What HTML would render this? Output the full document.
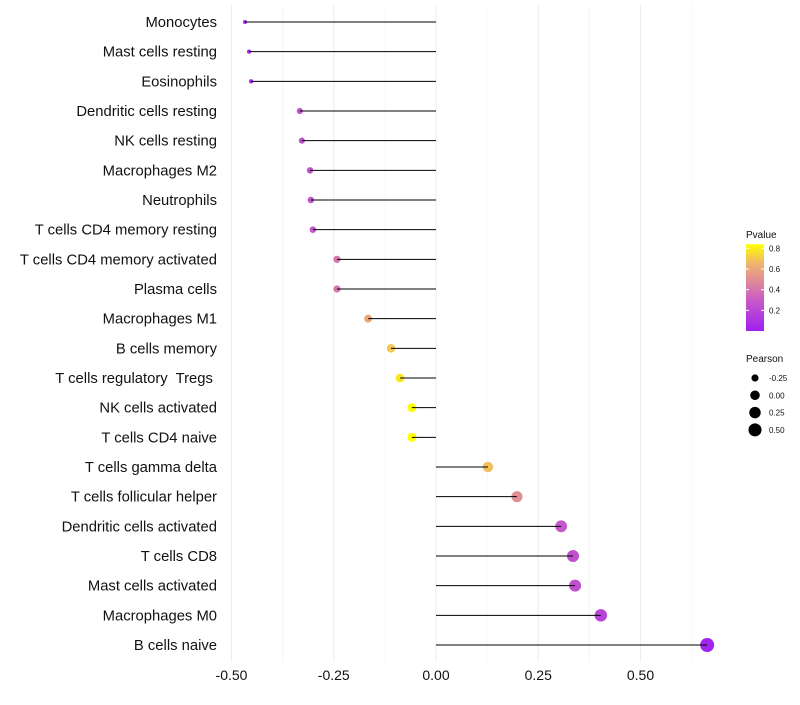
<!DOCTYPE html>
<html><head><meta charset="utf-8"><style>
body{margin:0;background:#fff;font-family:"Liberation Sans",sans-serif}
</style></head><body>
<svg id="c" width="800" height="700" xmlns="http://www.w3.org/2000/svg" font-family="Liberation Sans, sans-serif"></svg>
<script>
const categories=["Monocytes","Mast cells resting","Eosinophils","Dendritic cells resting","NK cells resting","Macrophages M2","Neutrophils","T cells CD4 memory resting","T cells CD4 memory activated","Plasma cells","Macrophages M1","B cells memory","T cells regulatory  Tregs ","NK cells activated","T cells CD4 naive","T cells gamma delta","T cells follicular helper","Dendritic cells activated","T cells CD8","Mast cells activated","Macrophages M0","B cells naive"];
const pearson=[-0.467,-0.457,-0.452,-0.333,-0.328,-0.308,-0.306,-0.301,-0.242,-0.242,-0.166,-0.110,-0.088,-0.059,-0.059,0.127,0.198,0.306,0.335,0.340,0.403,0.663];
const pvalue=[0.03,0.03,0.04,0.25,0.25,0.25,0.27,0.28,0.4,0.4,0.6,0.7,0.78,0.83,0.84,0.68,0.5,0.28,0.25,0.25,0.18,0.02];
const xTicks=[-0.5,-0.25,0,0.25,0.5];
const xTickLabels=["-0.50","-0.25","0.00","0.25","0.50"];
const pTicks=[0.2,0.4,0.6,0.8];
const sizeLegend=[-0.25,0,0.25,0.5];
const sizeLegendLabels=["-0.25","0.00","0.25","0.50"];

const svg=document.getElementById('c');const NS="http://www.w3.org/2000/svg";
function mk(t,a,p){const e=document.createElementNS(NS,t);for(const k in a)e.setAttribute(k,a[k]);(p||svg).appendChild(e);return e;}
const x=v=>436+v*409;
const y=i=>22+i*(623/(categories.length-1));
const r=v=>Math.sqrt(Math.max(1,22.7+39.8*v));
const stops=[[0,[160,32,240]],[0.3,[200,90,200]],[0.45,[220,130,160]],[0.65,[240,180,110]],[0.84,[255,255,0]]];
function col(p){p=Math.max(0,Math.min(0.84,p));for(let i=1;i<stops.length;i++){if(p<=stops[i][0]){const a=stops[i-1],b=stops[i],t=(p-a[0])/(b[0]-a[0]);return 'rgb('+a[1].map((c,j)=>Math.round(c+(b[1][j]-c)*t)).join(',')+')';}}return 'rgb(255,255,0)';}
const grid=mk('g',{});
for(let v=-0.5;v<=0.626;v+=0.125){mk('line',{x1:x(v),x2:x(v),y1:5,y2:662,stroke:Math.abs(v*4-Math.round(v*4))<1e-6?'#eeeeee':'#f6f6f6','stroke-width':1},grid);}
xTicks.forEach((v,i)=>{const t=mk('text',{x:x(v),y:680,'text-anchor':'middle','font-size':14,fill:'#111'});t.textContent=xTickLabels[i];
});
categories.forEach((c,i)=>{
const t=mk('text',{x:217,y:y(i)+5,'text-anchor':'end','font-size':14.8,fill:'#111'});t.setAttribute('xml:space','preserve');t.style.whiteSpace='pre';t.textContent=c;

const d=mk('circle',{cx:x(pearson[i]),cy:y(i),r:r(pearson[i]),fill:col(pvalue[i])});

const l=mk('line',{x1:x(0),x2:x(pearson[i]),y1:y(i),y2:y(i),stroke:'#000','stroke-width':1});

});
const lg=mk('g',{});
const defs=mk('defs',{});const gr=mk('linearGradient',{id:'gr',x1:0,y1:1,x2:0,y2:0},defs);
stops.forEach(s=>mk('stop',{offset:(s[0]/0.84),'stop-color':col(s[0])},gr));
let t=mk('text',{x:746,y:238,'font-size':10,fill:'#111'},lg);t.textContent='Pvalue';
const py=p=>331-p*103.3;
mk('rect',{x:746,y:py(0.84),width:18,height:py(0)-py(0.84),fill:'url(#gr)'},lg);
pTicks.forEach(p=>{mk('line',{x1:746,x2:749,y1:py(p),y2:py(p),stroke:'#fff'},lg);mk('line',{x1:761,x2:764,y1:py(p),y2:py(p),stroke:'#fff'},lg);
const tt=mk('text',{x:769,y:py(p)+3,'font-size':8,fill:'#111'},lg);tt.textContent=p.toFixed(1);});
const sg=mk('g',{});
t=mk('text',{x:746,y:362,'font-size':10,fill:'#111'},sg);t.textContent='Pearson';
sizeLegend.forEach((v,i)=>{const cy=378+i*17.3;mk('circle',{cx:755,cy:cy,r:r(v),fill:'#000'},sg);
const tt=mk('text',{x:769,y:cy+3,'font-size':8,fill:'#111'},sg);tt.textContent=sizeLegendLabels[i];});
</script>
</body></html>
